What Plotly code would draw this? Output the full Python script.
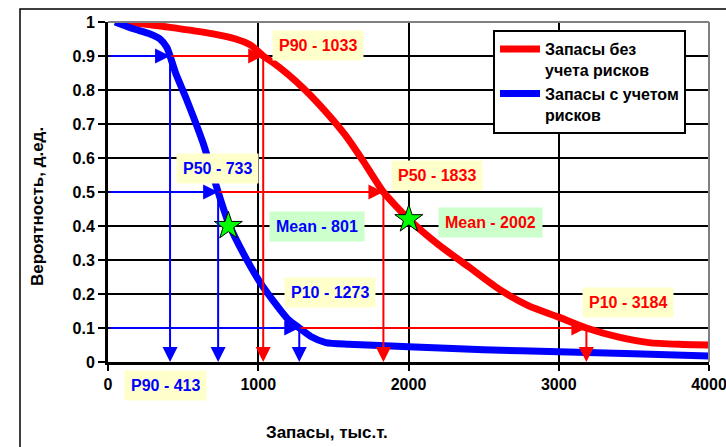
import plotly.graph_objects as go

# Exceedance-probability curves of reserves (thousand tonnes)
reserves_no_risk = [130, 400, 700, 850, 950, 1033, 1100, 1200, 1300, 1400, 1500, 1600, 1700,
                    1833, 2002, 2200, 2400, 2600, 2800, 3000, 3184, 3400, 3600, 3800, 4000]
prob_no_risk = [1.0, 0.985, 0.965, 0.95, 0.932, 0.9, 0.88, 0.845, 0.805, 0.76, 0.71, 0.655, 0.59,
                0.5, 0.42, 0.345, 0.28, 0.215, 0.165, 0.132, 0.1, 0.073, 0.057, 0.052, 0.05]

reserves_risk = [47, 168, 280, 346, 392, 413, 450, 525, 632, 733, 801, 900, 1011, 1100, 1200,
                 1273, 1350, 1450, 1600, 2000, 2500, 3000, 3500, 4000]
prob_risk = [1.0, 0.98, 0.965, 0.95, 0.925, 0.9, 0.85, 0.77, 0.645, 0.5, 0.41, 0.32, 0.235, 0.18,
             0.125, 0.1, 0.075, 0.057, 0.052, 0.045, 0.036, 0.03, 0.024, 0.018]

# P90 / P50 / P10 quantiles and means
p_levels = [0.9, 0.5, 0.1]
p_names = ["P90", "P50", "P10"]
p_no_risk = [1033, 1833, 3184]
p_risk = [413, 733, 1273]
mean_values = [801, 2002]
mean_probs = [0.40, 0.42]

RED = "#ff0000"
BLUE = "#0000ff"
YELLOW_BOX = "#ffffcc"
GREEN_BOX = "#ccffcc"
FONT = "Liberation Sans, Arial, sans-serif"

W, H = 726, 447
L, R, T, B = 108, 17, 22, 85
PW, PH = W - L - R, H - T - B


def px_x(p):
    return (p - L) / PW


def px_y(p):
    return (H - B - p) / PH


fig = go.Figure()
fig.add_trace(go.Scatter(
    x=reserves_no_risk, y=prob_no_risk, mode="lines", name="<b>Запасы без<br>учета рисков</b>",
    line=dict(color=RED, width=7, shape="spline", smoothing=0.6)))
fig.add_trace(go.Scatter(
    x=reserves_risk, y=prob_risk, mode="lines", name="<b>Запасы с учетом<br>рисков</b>",
    line=dict(color=BLUE, width=7, shape="spline", smoothing=0.6)))
fig.add_trace(go.Scatter(
    x=mean_values, y=mean_probs, mode="markers", showlegend=False,
    marker=dict(symbol="star", size=21, color="#00ff00", line=dict(color="black", width=1))))

annotations = []


def arrow(x0, y0, x1, y1, color):
    annotations.append(dict(
        x=x1, y=y1, ax=x0, ay=y0, xref="x", yref="y", axref="x", ayref="y",
        text="", showarrow=True, arrowhead=2, arrowsize=1.5, arrowwidth=2,
        arrowcolor=color, standoff=0, startstandoff=0))


for lvl, vb, vr in zip(p_levels, p_risk, p_no_risk):
    arrow(0, lvl, vb, lvl, BLUE)
    arrow(vb, lvl, vr, lvl, RED)
    arrow(vb, lvl, vb, 0, BLUE)
    arrow(vr, lvl, vr, 0, RED)

# label boxes: (text, colour, background, pixel centre)
labels = [
    (f"{p_names[0]} - {p_no_risk[0]}", RED, YELLOW_BOX, (318, 46)),
    (f"{p_names[1]} - {p_no_risk[1]}", RED, YELLOW_BOX, (437, 176)),
    (f"{p_names[2]} - {p_no_risk[2]}", RED, YELLOW_BOX, (628, 302)),
    (f"{p_names[0]} - {p_risk[0]}", BLUE, YELLOW_BOX, (165, 385)),
    (f"{p_names[1]} - {p_risk[1]}", BLUE, YELLOW_BOX, (217, 168)),
    (f"{p_names[2]} - {p_risk[2]}", BLUE, YELLOW_BOX, (330, 292)),
    (f"Mean - {mean_values[0]}", BLUE, GREEN_BOX, (317, 226)),
    (f"Mean - {mean_values[1]}", RED, GREEN_BOX, (490, 222)),
]
for text, col, bg, (cx, cy) in labels:
    annotations.append(dict(
        x=px_x(cx), y=px_y(cy), xref="paper", yref="paper", text=f"<b>{text}</b>",
        showarrow=False, bgcolor=bg, borderpad=6,
        font=dict(family=FONT, size=16, color=col), xanchor="center", yanchor="middle"))

# axis titles
annotations.append(dict(
    x=px_x(37), y=px_y(207), xref="paper", yref="paper", text="<b>Вероятность, д.ед.</b>",
    textangle=-90, showarrow=False, xanchor="center", yanchor="middle",
    font=dict(family=FONT, size=17, color="black")))
annotations.append(dict(
    x=px_x(327), y=px_y(432), xref="paper", yref="paper", text="<b>Запасы, тыс.т.</b>",
    showarrow=False, xanchor="center", yanchor="middle",
    font=dict(family=FONT, size=17, color="black")))

shapes = [
    # outer chart frame
    dict(type="rect", xref="paper", yref="paper", x0=px_x(20), y0=px_y(470), x1=px_x(760),
         y1=px_y(9), line=dict(color="black", width=1.5), layer="below"),
    # plot-area border (top and right)
    dict(type="line", xref="paper", yref="paper", x0=0, y0=1, x1=1, y1=1,
         line=dict(color="#808080", width=2)),
    dict(type="line", xref="paper", yref="paper", x0=1, y0=0, x1=1, y1=1,
         line=dict(color="#808080", width=2)),
]

tick_font = dict(family=FONT, size=16, color="black")
fig.update_layout(
    width=W, height=H, margin=dict(l=L, r=R, t=T, b=B, autoexpand=False),
    paper_bgcolor="white", plot_bgcolor="white",
    annotations=annotations, shapes=shapes,
    xaxis=dict(range=[0, 4000], dtick=1000, showgrid=True, gridcolor="black", gridwidth=2,
               zeroline=False, showline=True, linecolor="black", linewidth=3,
               ticks="outside", ticklen=6, tickwidth=2, tickcolor="black",
               ticklabeloverflow="allow", automargin=False,
               tickfont=tick_font, tickprefix="<b>", ticksuffix="</b>"),
    yaxis=dict(range=[0, 1], dtick=0.1, showgrid=True, gridcolor="black", gridwidth=2,
               zeroline=False, showline=True, linecolor="black", linewidth=3,
               ticks="outside", ticklen=7, tickwidth=2, tickcolor="black",
               automargin=False,
               tickfont=tick_font, tickprefix="<b>", ticksuffix="</b>"),
    legend=dict(x=px_x(493), y=px_y(30), xanchor="left", yanchor="top",
                bgcolor="white", bordercolor="black", borderwidth=2,
                font=dict(family=FONT, size=16, color="black"), valign="top",
                itemwidth=40, tracegroupgap=4),
    showlegend=True,
)

fig.write_html("out.html")
